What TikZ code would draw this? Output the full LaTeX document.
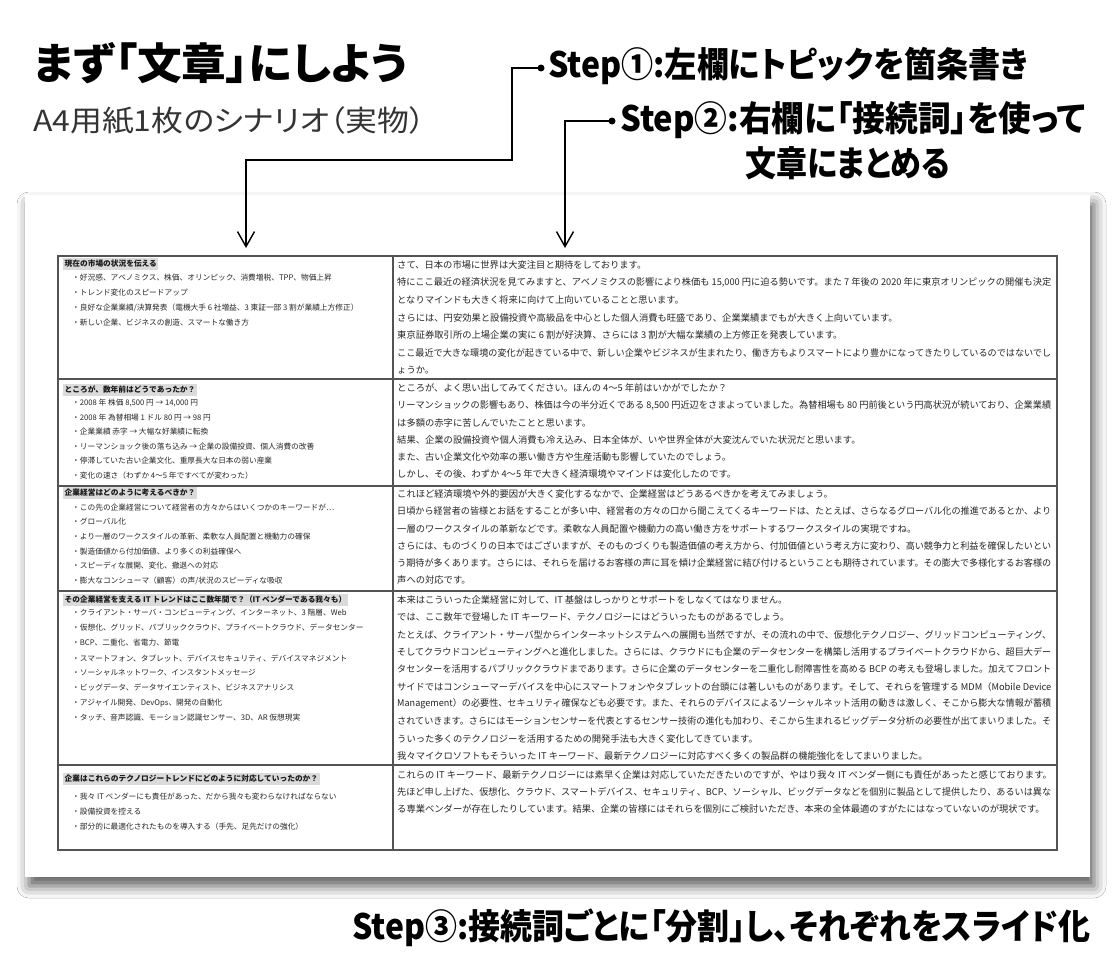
\documentclass[tikz,border=0pt]{standalone}
\usepackage{fontspec}
\usepackage{graphicx}
\newfontfamily\jp{Noto Sans CJK JP}
\newfontfamily\jpp{Noto Sans CJK JP}[RawFeature={+palt}]
\usetikzlibrary{arrows.meta,shadows.blur}
\newcommand\fl[1]{\resizebox{654pt}{\height}{#1}}
\tikzset{
 txt/.style={inner sep=0pt, anchor=west, font=\jp},
 hd/.style={inner sep=0pt, anchor=west, font=\jpp},
 lt/.style={txt, font=\jp\fontsize{7.7}{9}\selectfont, text=black!85},
 lh/.style={txt, font=\jp\bfseries\fontsize{7.7}{9}\selectfont, text=black!90, fill=gray!28, inner xsep=1.5pt, inner ysep=2pt},
 rt/.style={txt, font=\jp\fontsize{9.3}{11}\selectfont, text=black!85},
 conn/.style={line width=1.8pt, -{Straight Barb[length=15pt,width=17pt,line width=1.4pt]}},
 dotn/.style={circle, fill=black, inner sep=0pt, minimum size=7pt},
 gridln/.style={draw=gray!65!black, line width=1.2pt},
}
\begin{document}
\begin{tikzpicture}[x=1pt,y=-1pt]
\useasboundingbox (0,0) rectangle (1119,958);
\fill[white] (0,0) rectangle (1119,958);
% paper
\fill[white, blur shadow={shadow xshift=4pt, shadow yshift=-9pt, shadow blur radius=12pt, shadow opacity=65}] (25,195) rectangle (1090,877);
% table
\draw[gridln] (58,256) rectangle (1057,850);
\draw[gridln] (393,256) -- (393,850);
\foreach \yy in {379,486,591,765} \draw[gridln] (58,\yy) -- (1057,\yy);

% headings
\node[hd] (title) at (33,63) {\resizebox{375pt}{\height}{\fontsize{43}{43}\selectfont\bfseries まず「文章」にしよう}};
\node[hd, text=black!80] (sub) at (33,121) {\resizebox{392pt}{\height}{\fontsize{29}{29}\selectfont A4用紙1枚のシナリオ（実物）}};
\node[hd] (s1) at (548,66) {\resizebox{480pt}{\height}{\fontsize{35}{35}\selectfont\bfseries Step①:左欄にトピックを箇条書き}};
\node[hd] (s2) at (620,120) {\resizebox{465pt}{\height}{\fontsize{35}{35}\selectfont\bfseries Step②:右欄に「接続詞」を使って}};
\node[hd] (s2b) at (745,163) {\resizebox{205pt}{\height}{\fontsize{35}{35}\selectfont\bfseries 文章にまとめる}};
\node[hd] (s3) at (352,928) {\resizebox{738pt}{\height}{\fontsize{35}{35}\selectfont\bfseries Step③:接続詞ごとに「分割」し、それぞれをスライド化}};

% connectors
\node[dotn] (d1) at (541,68) {};
\node[dotn] (d2) at (612,121) {};
\coordinate (a1) at (246,248);
\coordinate (a2) at (565,248);
\draw[conn] (d1.center) -| (512,160) -| (a1);
\draw[conn] (d2.center) -| (a2);

% left column
\node[lh] (h1) at (63,264) {現在の市場の状況を伝える};
\node[lt] (l11) at (72,277.5) {・好況感、アベノミクス、株価、オリンピック、消費増税、TPP、物価上昇};
\node[lt] (l12) at (72,292.5) {・トレンド変化のスピードアップ};
\node[lt] (l13) at (72,308) {・良好な企業業績/決算発表（電機大手 6 社増益、3 東証一部 3 割が業績上方修正）};
\node[lt] (l14) at (72,323) {・新しい企業、ビジネスの創造、スマートな働き方};

\node[lh] (h2) at (63,390) {ところが、数年前はどうであったか？};
\node[lt] (l21) at (72,403) {・2008 年 株価 8,500 円 → 14,000 円};
\node[lt] (l22) at (72,417.5) {・2008 年 為替相場 1 ドル 80 円 → 98 円};
\node[lt] (l23) at (72,432) {・企業業績 赤字 → 大幅な好業績に転換};
\node[lt] (l24) at (72,446.5) {・リーマンショック後の落ち込み → 企業の設備投資、個人消費の改善};
\node[lt] (l25) at (72,461) {・停滞していた古い企業文化、重厚長大な日本の弱い産業};
\node[lt] (l26) at (72,476) {・変化の速さ（わずか 4～5 年ですべてが変わった）};

\node[lh] (h3) at (63,493) {企業経営はどのように考えるべきか？};
\node[lt] (l31) at (72,508) {・この先の企業経営について経営者の方々からはいくつかのキーワードが…};
\node[lt] (l32) at (72,522) {・グローバル化};
\node[lt] (l33) at (72,537) {・より一層のワークスタイルの革新、柔軟な人員配置と機動力の確保};
\node[lt] (l34) at (72,551.5) {・製造価値から付加価値、より多くの利益確保へ};
\node[lt] (l35) at (72,566) {・スピーディな展開、変化、撤退への対応};
\node[lt] (l36) at (72,581) {・膨大なコンシューマ（顧客）の声/状況のスピーディな吸収};

\node[lh] (h4) at (63,600) {その企業経営を支える IT トレンドはここ数年間で？（IT ベンダーである我々も）};
\node[lt] (l41) at (72,613) {・クライアント・サーバ・コンピューティング、インターネット、3 階層、Web};
\node[lt] (l42) at (72,628) {・仮想化、グリッド、パブリッククラウド、プライベートクラウド、データセンター};
\node[lt] (l43) at (72,643) {・BCP、二重化、省電力、節電};
\node[lt] (l44) at (72,658) {・スマートフォン、タブレット、デバイスセキュリティ、デバイスマネジメント};
\node[lt] (l45) at (72,673) {・ソーシャルネットワーク、インスタントメッセージ};
\node[lt] (l46) at (72,688) {・ビッグデータ、データサイエンティスト、ビジネスアナリシス};
\node[lt] (l47) at (72,703) {・アジャイル開発、DevOps、開発の自動化};
\node[lt] (l48) at (72,718) {・タッチ、音声認識、モーション認識センサー、3D、AR 仮想現実};

\node[lh] (h5) at (63,779) {企業はこれらのテクノロジートレンドにどのように対応していったのか？};
\node[lt] (l51) at (72,797) {・我々 IT ベンダーにも責任があった、だから我々も変わらなければならない};
\node[lt] (l52) at (72,812) {・設備投資を控える};
\node[lt] (l53) at (72,827) {・部分的に最適化されたものを導入する（手先、足先だけの強化）};

% right column
\node[rt] (r11) at (397,265) {さて、日本の市場に世界は大変注目と期待をしております。};
\node[rt] (r12) at (397,282.5) {\fl{特にここ最近の経済状況を見てみますと、アベノミクスの影響により株価も 15,000 円に迫る勢いです。また 7 年後の 2020 年に東京オリンピックの開催も決定}};
\node[rt] (r13) at (397,300) {となりマインドも大きく将来に向けて上向いていることと思います。};
\node[rt] (r14) at (397,317.5) {さらには、円安効果と設備投資や高級品を中心とした個人消費も旺盛であり、企業業績までもが大きく上向いています。};
\node[rt] (r15) at (397,335) {東京証券取引所の上場企業の実に 6 割が好決算、さらには 3 割が大幅な業績の上方修正を発表しています。};
\node[rt] (r16) at (397,352.5) {\fl{ここ最近で大きな環境の変化が起きている中で、新しい企業やビジネスが生まれたり、働き方もよりスマートにより豊かになってきたりしているのではないでし}};
\node[rt] (r17) at (397,370) {ょうか。};

\node[rt] (r21) at (397,388) {ところが、よく思い出してみてください。ほんの 4～5 年前はいかがでしたか？};
\node[rt] (r22) at (397,405) {\fl{リーマンショックの影響もあり、株価は今の半分近くである 8,500 円近辺をさまよっていました。為替相場も 80 円前後という円高状況が続いており、企業業績}};
\node[rt] (r23) at (397,422.5) {は多額の赤字に苦しんでいたことと思います。};
\node[rt] (r24) at (397,440) {結果、企業の設備投資や個人消費も冷え込み、日本全体が、いや世界全体が大変沈んでいた状況だと思います。};
\node[rt] (r25) at (397,457) {また、古い企業文化や効率の悪い働き方や生産活動も影響していたのでしょう。};
\node[rt] (r26) at (397,474) {しかし、その後、わずか 4～5 年で大きく経済環境やマインドは変化したのです。};

\node[rt] (r31) at (397,494) {これほど経済環境や外的要因が大きく変化するなかで、企業経営はどうあるべきかを考えてみましょう。};
\node[rt] (r32) at (397,511) {\fl{日頃から経営者の皆様とお話をすることが多い中、経営者の方々の口から聞こえてくるキーワードは、たとえば、さらなるグローバル化の推進であるとか、より}};
\node[rt] (r33) at (397,528.5) {一層のワークスタイルの革新などです。柔軟な人員配置や機動力の高い働き方をサポートするワークスタイルの実現ですね。};
\node[rt] (r34) at (397,546) {\fl{さらには、ものづくりの日本ではございますが、そのものづくりも製造価値の考え方から、付加価値という考え方に変わり、高い競争力と利益を確保したいとい}};
\node[rt] (r35) at (397,563) {\fl{う期待が多くあります。さらには、それらを届けるお客様の声に耳を傾け企業経営に結び付けるということも期待されています。その膨大で多様化するお客様の}};
\node[rt] (r36) at (397,580) {声への対応です。};

\node[rt] (r41) at (397,600) {本来はこういった企業経営に対して、IT 基盤はしっかりとサポートをしなくてはなりません。};
\node[rt] (r42) at (397,617) {では、ここ数年で登場した IT キーワード、テクノロジーにはどういったものがあるでしょう。};
\node[rt] (r43) at (397,634.5) {\fl{たとえば、クライアント・サーバ型からインターネットシステムへの展開も当然ですが、その流れの中で、仮想化テクノロジー、グリッドコンピューティング、}};
\node[rt] (r44) at (397,652) {\fl{そしてクラウドコンピューティングへと進化しました。さらには、クラウドにも企業のデータセンターを構築し活用するプライベートクラウドから、超巨大デー}};
\node[rt] (r45) at (397,669) {\fl{タセンターを活用するパブリッククラウドまであります。さらに企業のデータセンターを二重化し耐障害性を高める BCP の考えも登場しました。加えてフロント}};
\node[rt] (r46) at (397,686.5) {\fl{サイドではコンシューマーデバイスを中心にスマートフォンやタブレットの台頭には著しいものがあります。そして、それらを管理する MDM（Mobile Device}};
\node[rt] (r47) at (397,704) {\fl{Management）の必要性、セキュリティ確保なども必要です。また、それらのデバイスによるソーシャルネット活用の動きは激しく、そこから膨大な情報が蓄積}};
\node[rt] (r48) at (397,721) {\fl{されていきます。さらにはモーションセンサーを代表とするセンサー技術の進化も加わり、そこから生まれるビッグデータ分析の必要性が出てまいりました。そ}};
\node[rt] (r49) at (397,738.5) {ういった多くのテクノロジーを活用するための開発手法も大きく変化してきています。};
\node[rt] (r410) at (397,756) {我々マイクロソフトもそういった IT キーワード、最新テクノロジーに対応すべく多くの製品群の機能強化をしてまいりました。};

\node[rt] (r51) at (397,775) {これらの IT キーワード、最新テクノロジーには素早く企業は対応していただきたいのですが、やはり我々 IT ベンダー側にも責任があったと感じております。};
\node[rt] (r52) at (397,792) {\fl{先ほど申し上げた、仮想化、クラウド、スマートデバイス、セキュリティ、BCP、ソーシャル、ビッグデータなどを個別に製品として提供したり、あるいは異な}};
\node[rt] (r53) at (397,809) {る専業ベンダーが存在したりしています。結果、企業の皆様にはそれらを個別にご検討いただき、本来の全体最適のすがたにはなっていないのが現状です。};
\end{tikzpicture}
\end{document}
